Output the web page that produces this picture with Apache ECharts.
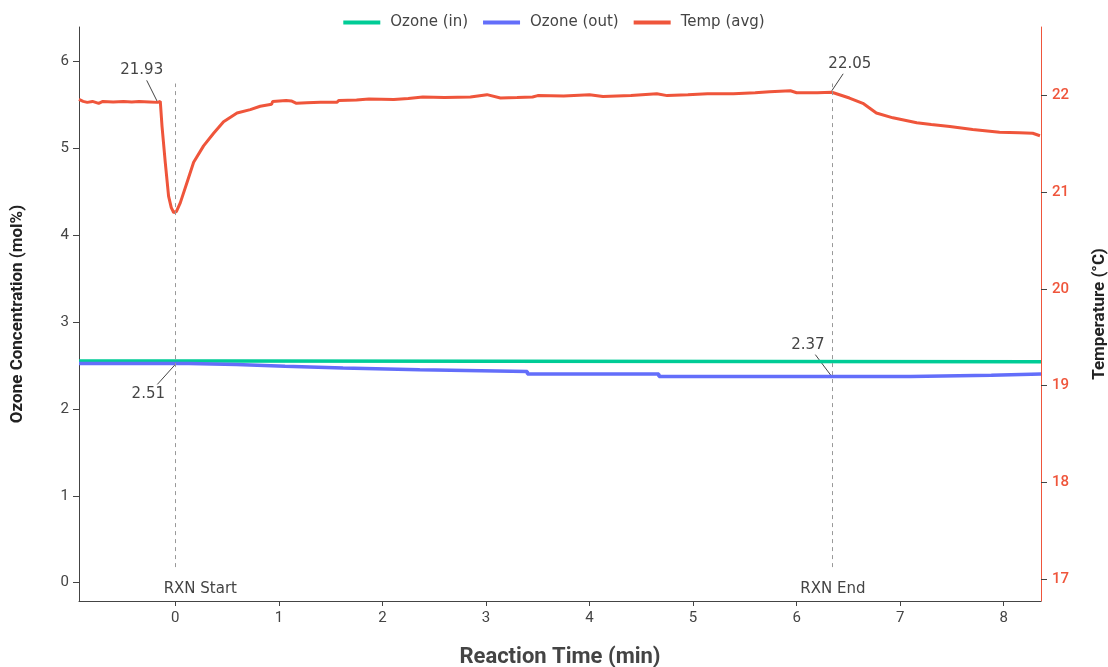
<!DOCTYPE html>
<html style="height: 100%">
<head>
<meta charset="utf-8">
<script src="https://cdn.jsdelivr.net/npm/echarts@6/dist/echarts.min.js"></script>
</head>
<body style="height: 100%; margin: 0; background: #fff">
<div id="container" style="width: 1108px; height: 667px"></div>
<script type="text/javascript">
// ---- data ----
var xTicks = [0, 1, 2, 3, 4, 5, 6, 7, 8];
var ozoneTicks = [0, 1, 2, 3, 4, 5, 6];
var tempTicks = [17, 18, 19, 20, 21, 22];

// [time (min), mol%]
var ozoneIn = [[-0.93, 2.55], [0.46, 2.55], [0.46, 2.545], [8.36, 2.54]];
// logged in steps: each level held until the next change
var outChangeTimes = [-0.93, 0.13, 0.59, 1.06, 1.62, 2.36, 3.40, 4.67, 7.10, 7.88];
var outLevels = [2.52, 2.51, 2.49, 2.47, 2.45, 2.43, 2.40, 2.37, 2.385, 2.40];
var outEndTime = 8.36;
// [time (min), °C]
var tempAvg = [
    [-0.93, 21.96], [-0.89, 21.94], [-0.85, 21.93], [-0.80, 21.94], [-0.74, 21.92],
    [-0.70, 21.94], [-0.60, 21.935], [-0.50, 21.94], [-0.42, 21.935], [-0.35, 21.94],
    [-0.25, 21.935], [-0.17, 21.93], [-0.145, 21.94], [-0.128, 21.68], [-0.097, 21.31],
    [-0.065, 20.96], [-0.039, 20.84], [-0.016, 20.79], [0.01, 20.80], [0.048, 20.89],
    [0.113, 21.10], [0.177, 21.31], [0.273, 21.48], [0.37, 21.61], [0.466, 21.73],
    [0.596, 21.82], [0.724, 21.855], [0.82, 21.89], [0.93, 21.91], [0.94, 21.94],
    [1.07, 21.95], [1.12, 21.945], [1.17, 21.92], [1.27, 21.925], [1.40, 21.93],
    [1.56, 21.93], [1.58, 21.95], [1.75, 21.955], [1.87, 21.965], [2.11, 21.96],
    [2.25, 21.97], [2.39, 21.985], [2.60, 21.98], [2.85, 21.985], [3.01, 22.01],
    [3.14, 21.975], [3.30, 21.98], [3.45, 21.985], [3.50, 22.0], [3.75, 21.995],
    [4.00, 22.01], [4.13, 21.99], [4.40, 22.0], [4.65, 22.02], [4.75, 22.0],
    [4.95, 22.01], [5.14, 22.02], [5.39, 22.02], [5.60, 22.03], [5.74, 22.04],
    [5.94, 22.05], [6.00, 22.03], [6.20, 22.03], [6.34, 22.035], [6.51, 21.975],
    [6.64, 21.92], [6.77, 21.82], [6.93, 21.77], [7.16, 21.72], [7.30, 21.70],
    [7.48, 21.68], [7.70, 21.65], [7.96, 21.62], [8.15, 21.615], [8.28, 21.61],
    [8.35, 21.585]
];

// reaction markers
var rxnTimes = [0, 6.34];
var rxnNames = ['RXN Start', 'RXN End'];

// callouts: [time, value, axis (0 ozone / 1 temp), text]
var callouts = [
    [-0.17, 21.93, 1, '21.93'],
    [6.34, 22.05, 1, '22.05'],
    [0, 2.51, 0, '2.51'],
    [6.34, 2.37, 0, '2.37']
];

// step series: hold each level until the next change time
var ozoneOut = [];
outChangeTimes.forEach(function (t, i) {
    if (i > 0) ozoneOut.push([t, outLevels[i - 1]]);
    ozoneOut.push([t, outLevels[i]]);
});
ozoneOut.push([outEndTime, outLevels[outLevels.length - 1]]);

// ---- chart ----
var dom = document.getElementById('container');
var myChart = echarts.init(dom, null, { renderer: 'canvas' });

var textGrey = '#444';
var red = '#EF553B';
var annFont = '"DejaVu Sans", Verdana, sans-serif';

function tickFmt(v) { return String(v); }

myChart.setOption({
    animation: false,
    backgroundColor: '#fff',
    legend: {
        top: 10,
        left: 'center',
        itemWidth: 37,
        itemHeight: 4,
        itemGap: 15,
        icon: 'rect',
        textStyle: { fontFamily: annFont, fontSize: 15, color: textGrey, padding: [0, 0, 0, 5] },
        data: ['Ozone (in)', 'Ozone (out)', 'Temp (avg)']
    },
    grid: { left: 79, right: 67, top: 27, bottom: 66, outerBoundsMode: 'none', containLabel: false },
    xAxis: {
        type: 'value',
        min: -0.93,
        max: 8.36,
        splitNumber: 9,
        name: 'Reaction Time (min)',
        nameLocation: 'middle',
        nameGap: 45,
        nameTextStyle: { fontFamily: 'Roboto', fontWeight: 'bold', fontSize: 22, color: textGrey },
        axisLine: { show: true, onZero: false, lineStyle: { color: textGrey, width: 1 } },
        axisTick: { show: true, length: 5, customValues: xTicks, lineStyle: { color: textGrey } },
        axisLabel: { customValues: xTicks, formatter: tickFmt, margin: 10, fontFamily: 'Roboto', fontSize: 15, color: textGrey },
        splitLine: { show: false }
    },
    yAxis: [{
        type: 'value',
        min: -0.21,
        max: 6.39,
        splitNumber: 6,
        name: 'Ozone Concentration (mol%)',
        nameLocation: 'middle',
        nameRotate: 90,
        nameGap: 53,
        nameTextStyle: { fontFamily: 'Roboto', fontWeight: 'bold', fontSize: 17, color: '#222' },
        axisLine: { show: true, onZero: false, lineStyle: { color: textGrey, width: 1 } },
        axisTick: { show: true, length: 6, customValues: ozoneTicks, lineStyle: { color: textGrey } },
        axisLabel: { customValues: ozoneTicks, formatter: tickFmt, margin: 10, fontFamily: 'Roboto', fontSize: 15, color: textGrey },
        splitLine: { show: false }
    }, {
        type: 'value',
        position: 'right',
        min: 16.77,
        max: 22.71,
        splitNumber: 6,
        name: 'Temperature (°C)',
        nameLocation: 'middle',
        nameRotate: 90,
        nameGap: 50,
        nameTextStyle: { fontFamily: 'Roboto', fontWeight: 'bold', fontSize: 17, color: '#222' },
        axisLine: { show: true, onZero: false, lineStyle: { color: red, width: 1 } },
        axisTick: { show: true, length: 6, customValues: tempTicks, lineStyle: { color: textGrey } },
        axisLabel: { customValues: tempTicks, formatter: tickFmt, margin: 11, fontFamily: 'Roboto', fontSize: 15, fontWeight: 500, color: red },
        splitLine: { show: false }
    }],
    series: [{
        name: 'Ozone (in)',
        type: 'line',
        yAxisIndex: 0,
        showSymbol: false,
        symbol: 'none',
        color: '#00CC96',
        lineStyle: { width: 3.5 },
        data: ozoneIn,
        markLine: {
            silent: true,
            symbol: 'none',
            label: { show: false },
            lineStyle: { color: '#999', type: [4, 4], width: 1 },
            data: rxnTimes.map(function (t) {
                return [{ coord: [t, 0.18] }, { coord: [t, 5.74] }];
            })
        }
    }, {
        name: 'Ozone (out)',
        type: 'line',
        yAxisIndex: 0,
        showSymbol: false,
        symbol: 'none',
        color: '#636EFA',
        lineStyle: { width: 3.5 },
        data: ozoneOut
    }, {
        name: 'Temp (avg)',
        type: 'line',
        yAxisIndex: 1,
        showSymbol: false,
        symbol: 'none',
        color: red,
        lineStyle: { width: 3 },
        data: tempAvg
    }]
});

// callouts and marker labels, placed through the axes
var calloutOffsets = [[-16, -32], [18, -27], [-27, 30], [-24, -32]];
var rxnLabelShift = [25, 1];
var graphics = [];
callouts.forEach(function (c, i) {
    var p = myChart.convertToPixel({ xAxisIndex: 0, yAxisIndex: c[2] }, [c[0], c[1]]);
    var off = calloutOffsets[i];
    var tx = p[0] + off[0], ty = p[1] + off[1];
    var ey = off[1] < 0 ? ty + 10 : ty - 10;
    var ex = p[0] + (ey - p[1]) * off[0] / off[1];
    graphics.push({
        type: 'line',
        shape: { x1: p[0], y1: p[1], x2: ex, y2: ey },
        style: { stroke: textGrey, lineWidth: 1 }
    });
    graphics.push({
        type: 'text',
        x: tx, y: ty,
        style: {
            text: c[3], fill: textGrey, font: '15px ' + annFont,
            align: 'center', verticalAlign: 'middle'
        }
    });
});
rxnTimes.forEach(function (t, i) {
    var p = myChart.convertToPixel({ xAxisIndex: 0, yAxisIndex: 0 }, [t, 0]);
    graphics.push({
        type: 'text',
        x: p[0] + rxnLabelShift[i], y: 589,
        style: {
            text: rxnNames[i], fill: textGrey, font: '15px ' + annFont,
            align: 'center', verticalAlign: 'middle'
        }
    });
});
myChart.setOption({ graphic: graphics });
</script>
</body>
</html>
